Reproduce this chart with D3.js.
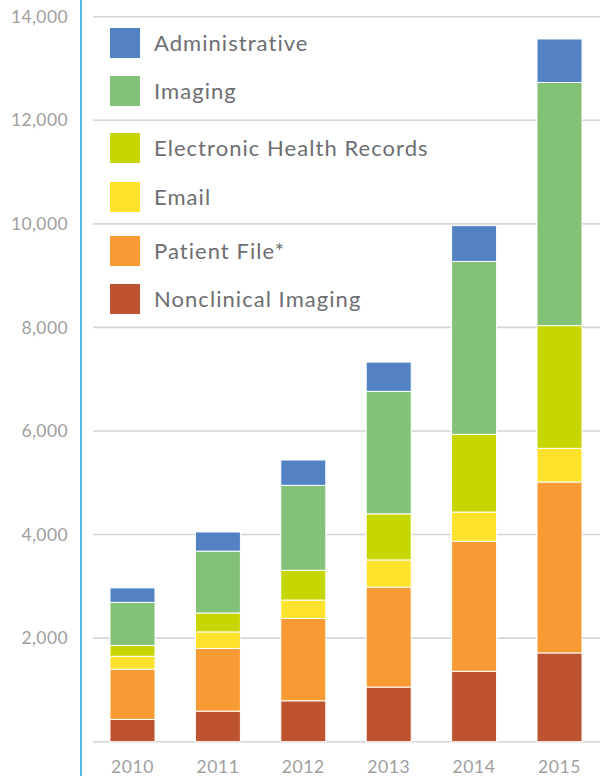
<!DOCTYPE html>
<html>
<head>
<meta charset="utf-8">
<script src="https://cdn.jsdelivr.net/npm/d3@7"></script>
<style>
  html, body { margin: 0; padding: 0; background: #fff; }
  svg { display: block; }
  text { font-variant-ligatures: none; font-feature-settings: "liga" 0; }
</style>
</head>
<body>
<svg id="chart" width="600" height="776"></svg>
<script>
// Years on the x axis
const years = ["2010", "2011", "2012", "2013", "2014", "2015"];

// Series, stacked bottom to top
const nonclinicalImaging = [430, 590, 790, 1055, 1360, 1715];
const patientFile        = [970, 1210, 1590, 1930, 2510, 3300];
const email              = [250, 320, 355, 525, 565, 650];
const ehr                = [210, 365, 575, 890, 1500, 2370];
const imaging            = [830, 1195, 1640, 2365, 3340, 4695];
const administrative     = [280, 370, 490, 565, 690, 840];

const seriesNames  = ["Nonclinical Imaging", "Patient File*", "Email",
                      "Electronic Health Records", "Imaging", "Administrative"];
const seriesValues = [nonclinicalImaging, patientFile, email, ehr, imaging, administrative];
const seriesColors = ["#bd5330", "#f89b35", "#ffe22b", "#c6d600", "#83c078", "#5282c4"];

const yTicks = [2000, 4000, 6000, 8000, 10000, 12000, 14000];

const svg = d3.select("#chart");
const fontFamily = "Lato, 'Noto Sans', sans-serif";

const x = d3.scaleBand()
  .domain(years)
  .range([89.8, 602.2])
  .paddingInner(0.473)
  .paddingOuter(0.2365);

const y = d3.scaleLinear()
  .domain([0, 14000])
  .range([741.7, 16.7]);

// Gridlines, including the baseline
svg.append("g")
  .selectAll("line")
  .data([0].concat(yTicks))
  .join("line")
  .attr("x1", 93).attr("x2", 600)
  .attr("y1", d => y(d)).attr("y2", d => y(d))
  .attr("stroke", "#d6d6d6")
  .attr("stroke-width", 1.6);

// Value axis labels
svg.append("g")
  .selectAll("text")
  .data(yTicks)
  .join("text")
  .attr("x", 68)
  .attr("y", d => y(d))
  .attr("dy", "0.35em")
  .attr("text-anchor", "end")
  .attr("font-family", fontFamily)
  .attr("font-size", 17.5)
  .attr("letter-spacing", 0.4)
  .attr("fill", "#a0a0a0")
  .text(d3.format(","));

// Vertical axis line
svg.append("line")
  .attr("x1", 81).attr("x2", 81)
  .attr("y1", 0).attr("y2", 776)
  .attr("stroke", "#29abe2")
  .attr("stroke-width", 1.6);

// Stacked bars
const table = years.map((yr, i) => {
  const row = { year: yr };
  seriesNames.forEach((n, k) => { row[n] = seriesValues[k][i]; });
  return row;
});
const stacked = d3.stack().keys(seriesNames)(table);

svg.append("g")
  .selectAll("g")
  .data(stacked)
  .join("g")
  .attr("fill", (d, i) => seriesColors[i])
  .selectAll("rect")
  .data(d => d)
  .join("rect")
  .attr("x", d => x(d.data.year))
  .attr("width", x.bandwidth())
  .attr("y", d => y(d[1]))
  .attr("height", d => y(d[0]) - y(d[1]))
  .attr("stroke", "#fff")
  .attr("stroke-width", 1);

// Year labels
svg.append("g")
  .selectAll("text")
  .data(years)
  .join("text")
  .attr("x", d => x(d) + x.bandwidth() / 2)
  .attr("y", 773)
  .attr("text-anchor", "middle")
  .attr("font-family", fontFamily)
  .attr("font-size", 17.5)
  .attr("letter-spacing", 0.6)
  .attr("fill", "#a0a0a0")
  .text(d => d);

// Legend, top entry first
const legendOrder = [5, 4, 3, 2, 1, 0];
const legendRowTop = [28, 76, 133, 182, 236, 284];
const legend = svg.append("g")
  .selectAll("g")
  .data(legendOrder)
  .join("g")
  .attr("transform", (k, i) => `translate(110,${legendRowTop[i]})`);

legend.append("rect")
  .attr("width", 30).attr("height", 30)
  .attr("fill", k => seriesColors[k]);

legend.append("text")
  .attr("x", 44)
  .attr("y", 15)
  .attr("dy", "0.35em")
  .attr("font-family", fontFamily)
  .attr("font-size", 22)
  .attr("letter-spacing", 1.05)
  .attr("fill", "#6d6e71")
  .text(k => seriesNames[k]);
</script>
</body>
</html>
